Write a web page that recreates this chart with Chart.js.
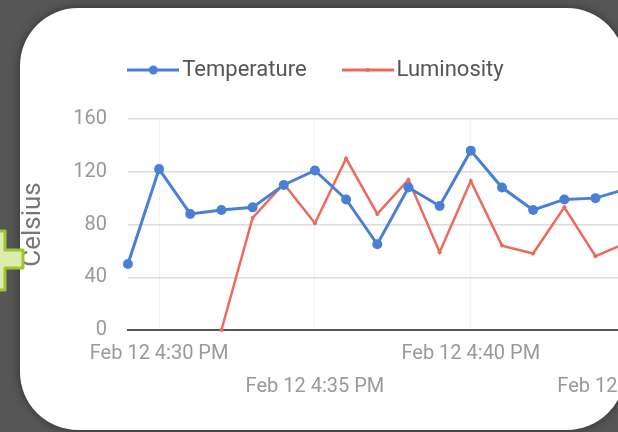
<!DOCTYPE html>
<html>
<head>
<meta charset="utf-8">
<script src="https://cdn.jsdelivr.net/npm/chart.js@4.4.1/dist/chart.umd.min.js"></script>
<style>
  html, body { margin: 0; padding: 0; }
  body { width: 618px; height: 432px; background: #565656; overflow: hidden; position: relative; }
  .card {
    position: absolute; left: 20px; top: 8px; width: 605px; height: 422px;
    background: #fff; border-radius: 58px; overflow: hidden;
    box-shadow: 0 0 10px rgba(0,0,0,0.45);
  }
  .wrap { position: absolute; left: -9px; top: 0; width: 692px; height: 402px; }
  .plus { position: absolute; left: 0; top: 0; }
</style>
</head>
<body>
<div class="card">
  <div class="wrap"><canvas id="temp-chart"></canvas></div>
</div>
<svg class="plus" width="40" height="432">
  <path d="M -20 231 L 5 231 L 5 250 L 23 250 L 23 268 L 5 268 L 5 290 L -20 290 L -20 268 L -40 268 L -40 250 L -20 250 Z"
        fill="#dcebb0" stroke="#9cc62c" stroke-width="3" stroke-linejoin="round"/>
</svg>
<script>
// one reading per minute, starting 4:29 PM
const times = ['4:29 PM', '4:30 PM', '4:31 PM', '4:32 PM', '4:33 PM', '4:34 PM', '4:35 PM', '4:36 PM',
               '4:37 PM', '4:38 PM', '4:39 PM', '4:40 PM', '4:41 PM', '4:42 PM', '4:43 PM', '4:44 PM', '4:45 PM'];
const temperature = [50, 122, 88, 91, 93, 110, 121, 99, 65, 108, 94, 136, 108, 91, 99, 100, 107];
const luminosity  = [null, null, null, 0, 85, 111, 81, 130, 88, 114, 59, 113, 64, 58, 93, 56, 66];

const tickIndexes = [1, 6, 11, 16];
const tickText = ['Feb 12 4:30 PM', 'Feb 12 4:35 PM', 'Feb 12 4:40 PM', 'Feb 12 4:45 PM'];
const yTicks = [0, 40, 80, 120, 160];

const FONT = 'Roboto';

function legendMark(color, dot) {
    const c = document.createElement('canvas');
    c.width = 52; c.height = 12;
    const g = c.getContext('2d');
    g.strokeStyle = color; g.lineWidth = 3;
    g.beginPath(); g.moveTo(0, 6); g.lineTo(52, 6); g.stroke();
    g.fillStyle = color;
    g.beginPath(); g.arc(26, 6, dot, 0, Math.PI * 2); g.fill();
    return c;
}
const marks = [legendMark('#4a80d4', 4.5), legendMark('#ec6a5e', 2)];

const legendHeight = {
    id: 'legendHeight',
    beforeInit(chart) {
        const fit = chart.legend.fit;
        chart.legend.fit = function () {
            fit.bind(chart.legend)();
            this.height = 103;
        };
    }
};

const ctx = document.getElementById('temp-chart').getContext('2d');
new Chart(ctx, {
    type: 'line',
    data: {
        labels: times,
        datasets: [
            {
                label: 'Temperature',
                data: temperature,
                borderColor: '#4a80d4',
                backgroundColor: '#4a80d4',
                borderWidth: 3,
                pointRadius: 5,
                pointBorderWidth: 0,
                pointBackgroundColor: '#4a80d4',
                tension: 0,
                clip: false,
            },
            {
                label: 'Luminosity',
                data: luminosity,
                borderColor: '#ec6a5e',
                backgroundColor: '#ec6a5e',
                borderWidth: 2.5,
                pointRadius: 2,
                pointBorderWidth: 0,
                pointBackgroundColor: '#ec6a5e',
                tension: 0,
                clip: false,
            }
        ]
    },
    options: {
        responsive: true,
        maintainAspectRatio: false,
        animation: false,
        layout: { padding: { top: 8, left: 0, right: 75, bottom: 0 } },
        plugins: {
            legend: {
                position: 'top',
                labels: {
                    usePointStyle: true,
                    pointStyleWidth: 36,
                    padding: 43,
                    font: { family: FONT, size: 22 },
                    color: '#555',
                    generateLabels(chart) {
                        const items = Chart.defaults.plugins.legend.labels.generateLabels(chart);
                        items.forEach((it, i) => { it.pointStyle = marks[i]; });
                        return items;
                    }
                }
            },
            tooltip: { enabled: false }
        },
        scales: {
            x: {
                grid: {
                    drawTicks: false,
                    color: c => tickIndexes.includes(c.index) ? '#f3f3f3' : 'rgba(0,0,0,0)',
                },
                border: { color: '#555', width: 2 },
                ticks: {
                    autoSkip: false,
                    maxRotation: 0,
                    padding: 7,
                    font: { family: FONT, size: 20, lineHeight: 1.65 },
                    color: '#999',
                    callback: (v, i) => {
                        const k = tickIndexes.indexOf(i);
                        if (k < 0) return '';
                        return k % 2 ? ['', tickText[k]] : tickText[k];
                    }
                }
            },
            y: {
                min: yTicks[0],
                max: yTicks[yTicks.length - 1],
                grid: { color: '#dcdcdc', lineWidth: 1.5, drawTicks: false },
                border: { display: false },
                afterBuildTicks: s => { s.ticks = yTicks.map(v => ({ value: v })); },
                ticks: {
                    padding: 21,
                    font: { family: FONT, size: 20 },
                    color: '#999',
                },
                title: {
                    display: true,
                    text: 'Celsius',
                    padding: { top: 7, bottom: 3 },
                    font: { family: FONT, size: 26 },
                    color: '#777',
                }
            }
        }
    },
    plugins: [legendHeight]
});
</script>
</body>
</html>
